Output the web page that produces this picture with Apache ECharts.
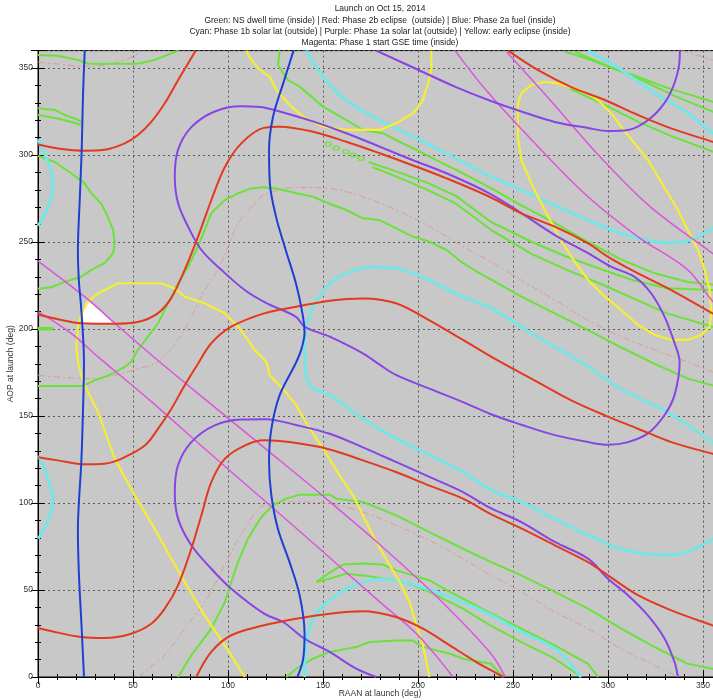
<!DOCTYPE html>
<html>
<head>
<meta charset="utf-8">
<script src="https://cdn.jsdelivr.net/npm/echarts@6/dist/echarts.min.js"></script>
<style>html,body{margin:0;padding:0;background:#fff;}#c{width:713px;height:700px;}</style>
</head>
<body>
<div id="c"></div>
<script>
// ---------- DATA (RAAN deg, AOP deg) ----------
const titleLines = [
  "Launch on Oct 15, 2014",
  "Green: NS dwell time (inside) | Red: Phase 2b eclipse  (outside) | Blue: Phase 2a fuel (inside)",
  "Cyan: Phase 1b solar lat (outside) | Purple: Phase 1a solar lat (outside) | Yellow: early eclipse (inside)",
  "Magenta: Phase 1 start GSE time (inside)"
];
const xAxisTitle = "RAAN at launch (deg)";
const yAxisTitle = "AOP at launch (deg)";

const blueLeft = [[24.6,360],[23.7,335],[23,303],[22,275],[21,245],[21.5,228],[22.8,211],[24.2,181],[23.6,150],[22.8,123.6],[21.5,100],[21,85],[21.5,60],[23,27.6],[24.2,0]];
const blueS = [[134.5,360],[129,341],[123.7,322],[121.6,303],[122,284],[125.4,264],[130.5,245],[135.8,226],[139.5,207],[140.3,198],[138.5,188],[135.5,180],[127.2,162],[122.8,142.5],[121.6,123.6],[122.8,104.6],[126.3,85],[132.4,66],[137.7,47],[140.3,25],[139.5,10],[136.5,0]];

const cyanLeftTop = [[0,309],[1.4,305.7],[4.5,298],[7,290],[7.9,284],[7.2,276],[4.5,268],[1.4,261.7],[0,259.5]];
const cyanLeftBottom = [[0,127],[1.4,124.7],[4.5,116],[7.9,102.5],[6,92],[3,85],[1.4,81.6],[0,79.5]];
const cyanU = [[141,360],[150,345],[162,331.6],[179.8,320],[197.4,310.5],[214.7,301],[236.8,288.5],[254.4,280],[272,271],[289.5,262.6],[306.8,255],[324.6,250.2],[335,249.6],[345.6,252],[355,258],[360,263]];
const cyanTopRight = [[289.5,360],[306.8,349],[324.6,335.6],[342,324],[355,312.6],[360,308]];
const cyanHairpin = [[360,131],[355,135],[331.6,152],[306.8,165.5],[285.8,181],[262,196],[238.4,212],[223.7,218.4],[206,228],[192,234],[176,235.6],[162,232],[153.5,226],[144.7,212.6],[140.3,193.7],[140.6,181],[141,173.6],[144.7,166],[153.5,162],[171,148.4],[188.4,137],[206,127.6],[223.7,117.8],[238.4,107.5],[254.4,100.6],[272,91],[289.5,81.6],[306.8,73.7],[324.6,70.3],[335,70.3],[345.6,73.7],[355,79.5],[360,84]];
const cyanBottom = [[140.3,0],[141,18.4],[146,35.6],[156.8,47],[171,54.6],[181.6,56.3],[195.6,53.6],[209.5,48.9],[223.7,43],[238.4,35.6],[254.4,25.9],[272,16.3],[285.8,0]];

const purpleTop = [[178,360],[200,349],[220,339],[238.4,331],[254.4,325],[272,319],[289.5,315.5],[300,313.8],[310.5,314.4],[321,320],[329.8,330],[335,341.4],[337.7,354.6],[337.8,360]];
const purpleLoop = [[118.4,327.4],[107,328],[93,325],[80.7,316],[73.7,303],[72,287.5],[73.7,272.4],[79,258.8],[86,245.4],[96.5,234],[108.8,222.4],[120,215],[135.8,207],[140.3,201.3],[153.5,195.6],[171,186],[179.8,179.5],[188.4,173.6],[206,165.7],[223.7,158],[238.4,151],[254.4,145],[272,139],[289.5,135],[300,133.5],[310.5,135],[321,140],[329.8,150.6],[335,162],[337.7,181],[335,192],[329.8,207],[322.6,220.7],[314,230],[301.6,235.8],[289.5,243.6],[272,254],[254.4,266.6],[237.5,278],[215,289.5],[197.4,297],[179.8,304.8],[162.3,312.5],[144.7,319.3],[127.2,325],[118.4,327.4]];
const purpleBottom = [[336.8,0],[335,8.6],[329.8,22],[321,35.4],[310.5,47],[300,56.5],[289.5,68],[272,77.6],[254.4,89],[237.5,97.5],[223.7,106.3],[206,115],[188.4,123.6],[171,132],[153.5,139.8],[135.8,144.8],[120,148.2],[107,148],[93,144.6],[80.7,135],[73.7,121.7],[72,106.3],[73.7,91],[80.7,75.7],[91.2,62.2],[101.7,50.7],[119,36.4],[129,31.6],[140.3,22],[153.5,14.4],[167.5,4.8],[178,0]];

const redTopLeft = [[0,306],[10.5,303.8],[24.6,302.5],[35,303],[45.6,306.7],[52.6,311.5],[59.6,319],[66.7,329.7],[73.7,343],[82.5,359],[83,360]];
const redUpper = [[0,208.3],[10.5,205.6],[22.8,203.3],[40.4,203],[52.6,204],[63,209],[70,217.6],[77.2,234],[84.2,253],[91.2,274],[98.3,293],[107,306.7],[118.8,315.6],[127.2,316.3],[144.7,313.4],[162.3,307.6],[179.8,301],[197.4,294],[215,286.6],[237.6,276],[254.4,266.5],[272,258.8],[289.5,249.2],[300,241.5],[315.8,232],[333.3,222.4],[355,209],[360,206]];
const redTopRight = [[247.4,360],[263,348.9],[280.7,339],[298.3,331.6],[315.8,323],[333.3,315.3],[355,307.6],[360,306]];
const redMid = [[0,126.3],[10.5,124.5],[24.6,122.2],[35,122.6],[43.8,125.4],[56.2,133],[63.2,142.7],[70.2,154.2],[77.2,167.6],[84.2,180],[91.2,191.8],[101.7,201.3],[119,209],[135.8,212.8],[153.5,216.3],[171,217.6],[188.4,214.8],[206,205],[223.7,193.7],[241,182.5],[263,169.5],[280.7,159],[298.3,150.4],[315.8,142.7],[333.3,135],[355,128.3],[360,127]];
const redLower = [[0,28.2],[10.5,25.5],[22.8,23],[35,22.4],[49,24.9],[59.6,30.6],[66.7,39.3],[73.7,52.7],[80.7,73.7],[86,93],[91.2,112],[98.3,125.4],[108.8,133],[119,136],[132.4,135],[153.5,130.8],[171,124.5],[188.4,117.8],[206,110],[223.7,102.5],[237.6,94],[254.4,85.4],[272,75.7],[289.5,66],[300,58.4],[315.8,47],[333.3,38.3],[355,29.7],[360,28]];
const redBottom = [[83.3,0],[91.2,14.4],[101.7,24],[119,29.7],[135.8,33.5],[153.5,36.4],[171,37.8],[188.4,34.5],[202.6,27.8],[216.7,18.2],[230.7,8.6],[238.4,3.9],[245,0]];

const dashTop = [[0,353.3],[10.5,352.3],[22.8,351],[35,351.7],[45.6,354.6],[52.6,358.4],[54.4,360]];
const dashMid = [[0,173.4],[10.5,172.4],[26.3,171.5],[40.4,173.4],[52.6,177.2],[63.2,181],[73.7,193.7],[80.7,207],[87.7,222.4],[94.7,234],[100,247.3],[105.3,260.7],[112.3,270],[119,277],[135.8,281.4],[153.5,280.8],[171,276],[188.4,268.4],[206,259],[223.7,247.3],[237.6,239.2],[254.4,228],[272,216.7],[289.5,205],[306.8,195.6],[324.6,188],[342,181],[355,175.3],[360,173]];
const dashLow = [[52.6,0],[66.7,12.5],[77.2,27.8],[87.7,43],[94.7,56.5],[101.7,71.8],[108.8,85.2],[119,98.7],[135.8,100.6],[153.5,99.6],[171,94.8],[188.4,87.2],[206,78.5],[223.7,68],[237.6,59],[254.4,48.9],[272,37.4],[289.5,27.8],[306.8,16.3],[324.6,6.7],[335,1],[337,0]];
const dashTopRight = [[338.6,360],[355,354.6],[360,352]];

const magentaLeftA = [[0,239],[26.3,217],[40.4,203.3],[64.9,180.3],[92,156],[120,131],[150,104],[180,76],[210,46],[238,14],[246,0]];
const magentaLeftB = [[0,210],[17.5,197.5],[31.6,184],[60,158],[90,129],[120,100.6],[150,72],[180,43],[200,24],[218.4,0]];
const magentaRightA = [[219.5,360],[236.8,336],[263,305],[289.5,276],[315.8,253],[342,234],[355,216],[360,212]];
const magentaRightB = [[246.8,359],[269.5,331.6],[295.8,299],[322,270.5],[355,243.5],[360,239.5]];

const yellowTop = [[109.6,360],[112.3,354.6],[116.7,348.9],[122,345],[125.4,337.4],[132.5,328.7],[139.5,322],[150,316.3],[162.3,314.4],[179.8,314.4],[188.6,318.2],[197.4,324],[202.6,331.6],[205.3,341.2],[207,348.9],[207,360]];
const yellowLeft = [[108.8,0],[98.3,18.2],[87.7,35.4],[77.2,54.6],[70.2,68],[61.4,85.2],[50.9,104.4],[40.4,125.4],[31.6,152.3],[26.3,163.8],[24.6,167.6],[22.8,173.4],[21,181],[20.2,190],[21,201.3],[22.8,209],[26.3,215.7],[31.6,220.5],[36.8,223.3],[42.1,226.3],[64.9,226.3],[71.9,223.3],[77.2,218.6],[87.7,214.8],[98.3,209],[105.3,201.3],[110.5,193.7],[114,188],[120.2,181],[122,173.4],[128.9,165.7],[136,156.1],[143,142.7],[150,131.2],[158.8,115.9],[165.8,104.4],[171,92.9],[178,77.6],[185.1,64.2],[190.4,54.6],[195.6,43.1],[199.1,29.7],[202.6,18.2],[206,0]];
const yellowRight = [[252.6,329.7],[254.4,335.4],[259.6,340.2],[266.7,342.1],[273.7,341.2],[282.5,338.3],[289.5,335.4],[294.7,331.6],[301.7,323.9],[307,316.3],[314,306.7],[321,297.1],[326.3,287.5],[331.6,277.9],[336.8,268.4],[342,256.9],[347.4,245.4],[350.9,233.9],[353.5,222.4],[354.4,209],[353.5,201.3],[349,196.6],[342,193.7],[333.3,193.7],[324.6,196.6],[315.8,202.3],[307,210.9],[298.3,218.6],[289.5,228.2],[280.7,241.5],[273.7,254],[266.7,268.4],[259.6,283.7],[254.4,297.1],[252.6,310.5],[252.6,329.7]];
const whiteRegion = [[26,216.5],[23.5,211],[22.5,205],[22.8,203.3],[30,203],[40.4,203.2]];

const greenTopLeft = [[0,357.5],[10.5,357],[21,354.6],[26.3,352.5],[40,352.5],[52.6,352.5],[61.4,354.6],[70.2,358.4],[73.7,360]];
const greenPairUpper = [[0,326.8],[8.8,325.9],[14,323],[19.3,321],[22.8,319]];
const greenPairLower = [[0,323],[10.5,321],[17.5,319],[22.8,317.2]];
const greenLoopLeft = [[0,299.5],[1.4,299],[8.8,296],[17.5,289.5],[24.6,283.7],[28,278],[33.3,272],[36.8,264.5],[39.5,257],[40.4,249],[39.5,243.5],[35,237.8],[28,234],[22.8,230],[14,227],[7,224],[1.4,223.3],[0,223.3]];
const greenBlob = [[0,200.2],[8,200.2]];
const greenLong = [[0,167.2],[22.8,167.2],[26.3,168.6],[29.8,170.5],[35,172.4],[40.4,174.9],[45.6,178.2],[49,181],[52.6,188],[57.9,195.6],[63.2,203.3],[66.7,211],[70.2,218.6],[73.7,226.3],[79,235.8],[84.2,247.3],[87.7,257],[91.2,266.5],[98.3,274.1],[105.3,278],[112.3,280.8],[118.4,281.4],[125.4,280.8],[136,278],[144.7,276],[153.5,272],[162.3,268.4],[171,263.6],[179.8,262.6],[188.6,257.8],[197.4,253],[206,250.2],[215,245.4],[223.7,237.8],[232.5,232],[237.6,229],[254.4,218.6],[272,209],[289.5,199.4],[306.8,189.5],[324.6,180],[342,171.5],[355,167.6],[360,166]];
const greenUpperBand = [[127.2,360],[126.3,351.7],[131.6,343],[137.7,339.3],[150,327.8],[162.3,320],[171,314.4],[181.6,312.5],[192,306.7],[201,302],[211.4,296],[223.7,289.5],[238.4,281],[254.4,271],[272,261],[289.5,250],[306.8,240],[324.6,232],[342,227],[355,225.5],[360,225]];
const greenDots = [[152.7,306.3],[157,304],[162,302],[166,300],[170,298]];
const greenBandA = [[174,296],[190,290],[205,284],[220,276.5],[238.4,261.5],[260,250],[278.3,241.5],[296,234.5],[313.3,228],[331,223.4],[355,222.4],[360,222]];
const greenBandB = [[176,293],[190,287],[205,280],[220,272],[238.4,257],[260,243],[278.3,234],[296,226],[313.3,217.6],[331,209],[355,201.3],[360,199]];
const greenTopRightA = [[277.2,359.4],[290,355],[305,349],[315.8,345],[330,339],[342,335],[355,330.6],[360,329]];
const greenTopRightB = [[282.5,359.4],[300,351],[315.8,344],[335,334],[355,324.9],[360,323]];
const greenUnderRed = [[280,338],[298,329],[316,319],[333,311],[355,302],[360,300]];
const greenArch = [[73.7,0],[80.7,12.5],[91.2,27.8],[98.3,43],[101.7,54.6],[105.3,66],[110.5,79.5],[115.8,89],[118.4,93],[123.7,98.7],[130.7,102.5],[137.7,104.8],[153.5,104.8],[157,102.5],[171,100.6],[188.6,92.9],[206,83.3],[223.7,73.7],[237.6,66.5],[254.4,58.4],[272,48.9],[289.5,39.3],[307,27.8],[324.6,17.2],[342,7.6],[355,4.8],[360,4]];
const greenLowA = [[146.5,54.6],[153.5,60],[160.5,64.6],[171,65.2],[181.6,64.6],[188.6,61.3],[197.4,58.4],[206,55.6],[216.7,48.9],[227.2,43],[237.6,37],[254.4,27.8],[272,18.2],[289.5,7.6],[294.7,0]];
const greenLowB = [[146.5,54.6],[153.5,56.5],[162.3,59.4],[171,58.4],[188.6,55.6],[197.4,52.7],[206,48.9],[223.7,39.3],[237.6,30],[254.4,20.1],[272,10.5],[286,0]];
const greenBottom = [[130.7,0],[136,4.8],[144.7,10.5],[153.5,14.4],[167.5,17.2],[174.6,20.1],[188.6,21],[197.4,21],[200.9,18.2],[206,16.3],[216.7,13.4],[223.7,10.5],[238.4,7.6],[245,0]];

// ---------- STYLE ----------
const C = {
  red:'#e23a1e', blue:'#1e3fd4', cyan:'#74e6e8', purple:'#8745e4',
  yellow:'#f6ee32', green:'#6be23a', magenta:'#dc55de', dash:'#dd9b93'
};
const FONT = 'Liberation Sans';

function line(data, color, width, extra) {
  return Object.assign({
    type:'line', data:data, showSymbol:false, symbol:'none', silent:true,
    lineStyle:{color:color, width:width}, xAxisIndex:0, yAxisIndex:0,
    clip:true, z:3, animation:false
  }, extra||{});
}
const sm = {smooth:0.35};
const dashStyle = {lineStyle:{color:C.dash,width:1,type:[7,3,2,3]}, smooth:0.35};

const series = [
  {type:'custom', data:whiteRegion, xAxisIndex:0, yAxisIndex:0, z:2, silent:true,
   renderItem:function(params, api){
     if (params.dataIndex !== 0) return null;
     const pts = whiteRegion.map(function(p){ return api.coord(p); });
     return {type:'polygon', shape:{points:pts}, style:{fill:'#ffffff'}};
   }},
  line(dashTop, C.dash, 1, dashStyle), line(dashMid, C.dash, 1, dashStyle),
  line(dashLow, C.dash, 1, dashStyle), line(dashTopRight, C.dash, 1, dashStyle),
  line(greenTopLeft, C.green, 2), line(greenPairUpper, C.green, 2), line(greenPairLower, C.green, 2),
  line(greenLoopLeft, C.green, 2), line(greenBlob, C.green, 3.5), line(greenLong, C.green, 2),
  line(greenUpperBand, C.green, 2), line(greenBandA, C.green, 2), line(greenBandB, C.green, 2),
  line(greenTopRightA, C.green, 2), line(greenTopRightB, C.green, 2), line(greenUnderRed, C.green, 2),
  line(greenArch, C.green, 2), line(greenLowA, C.green, 2), line(greenLowB, C.green, 2), line(greenBottom, C.green, 2),
  {type:'scatter', data:greenDots, symbol:'circle', symbolSize:[6,4], silent:true, z:3,
   itemStyle:{color:'rgba(0,0,0,0)', borderColor:C.green, borderWidth:1.5}, animation:false},
  line(cyanLeftTop, C.cyan, 3, sm), line(cyanLeftBottom, C.cyan, 3, sm), line(cyanU, C.cyan, 3, sm),
  line(cyanTopRight, C.cyan, 3, sm), line(cyanHairpin, C.cyan, 3, sm), line(cyanBottom, C.cyan, 3, sm),
  line(yellowTop, C.yellow, 2.2), line(yellowLeft, C.yellow, 2.2), line(yellowRight, C.yellow, 2.2),
  line(magentaLeftA, C.magenta, 1.5, sm), line(magentaLeftB, C.magenta, 1.5, sm),
  line(magentaRightA, C.magenta, 1.5, sm), line(magentaRightB, C.magenta, 1.5, sm),
  line(purpleTop, C.purple, 2, sm), line(purpleLoop, C.purple, 2, sm), line(purpleBottom, C.purple, 2, sm),
  line(redTopLeft, C.red, 2, sm), line(redUpper, C.red, 2, sm), line(redTopRight, C.red, 2, sm),
  line(redMid, C.red, 2, sm), line(redLower, C.red, 2, sm), line(redBottom, C.red, 2, sm),
  line(blueLeft, C.blue, 2, sm), line(blueS, C.blue, 2, sm)
];

const baseAxis = {
  type:'value', min:0, max:360, interval:50,
  axisLine:{show:true, lineStyle:{color:'#000', width:1}},
  axisTick:{show:true, inside:true, length:7, lineStyle:{color:'#000'}},
  minorTick:{show:true, splitNumber:5, length:3, lineStyle:{color:'#000'}},
  splitLine:{show:false}
};

const chart = echarts.init(document.getElementById('c'), null, {renderer:'canvas'});
chart.setOption({
  animation:false,
  backgroundColor:'#ffffff',
  grid:{left:38, top:50.6, width:684, height:626.4, show:true, backgroundColor:'#c8c8c8',
        borderColor:'#000', borderWidth:1, containLabel:false, outerBoundsMode:'none'},
  xAxis:[
    Object.assign({}, baseAxis, {position:'bottom',
      axisLabel:{show:true, fontSize:8.5, color:'#333', margin:4, fontFamily:FONT, showMaxLabel:false},
      splitLine:{show:true, lineStyle:{type:[2,3], color:'#5a5a5a', width:1}},
      name:xAxisTitle, nameLocation:'middle', nameGap:12, nameMoveOverlap:false,
      nameTextStyle:{fontSize:8.5, color:'#333', fontFamily:FONT}}),
    Object.assign({}, baseAxis, {position:'top', axisLabel:{show:false}})
  ],
  yAxis:[
    Object.assign({}, baseAxis, {position:'left',
      axisLabel:{show:true, fontSize:8.5, color:'#333', margin:5, fontFamily:FONT, showMaxLabel:false},
      splitLine:{show:true, lineStyle:{type:[2,3], color:'#5a5a5a', width:1}},
      name:yAxisTitle, nameLocation:'middle', nameGap:23, nameRotate:90, nameMoveOverlap:false,
      nameTextStyle:{fontSize:8.5, color:'#333', fontFamily:FONT}}),
    Object.assign({}, baseAxis, {position:'right', axisLabel:{show:false}})
  ],
  graphic: titleLines.map(function(t, i){
    return {type:'text', x:380, y:9 + i*11.3, silent:true,
      style:{text:t, textAlign:'center', textVerticalAlign:'middle', align:'center', verticalAlign:'middle',
             fill:'#222', fontSize:8.5, fontFamily:FONT}};
  }),
  series: series
});
</script>
</body>
</html>
